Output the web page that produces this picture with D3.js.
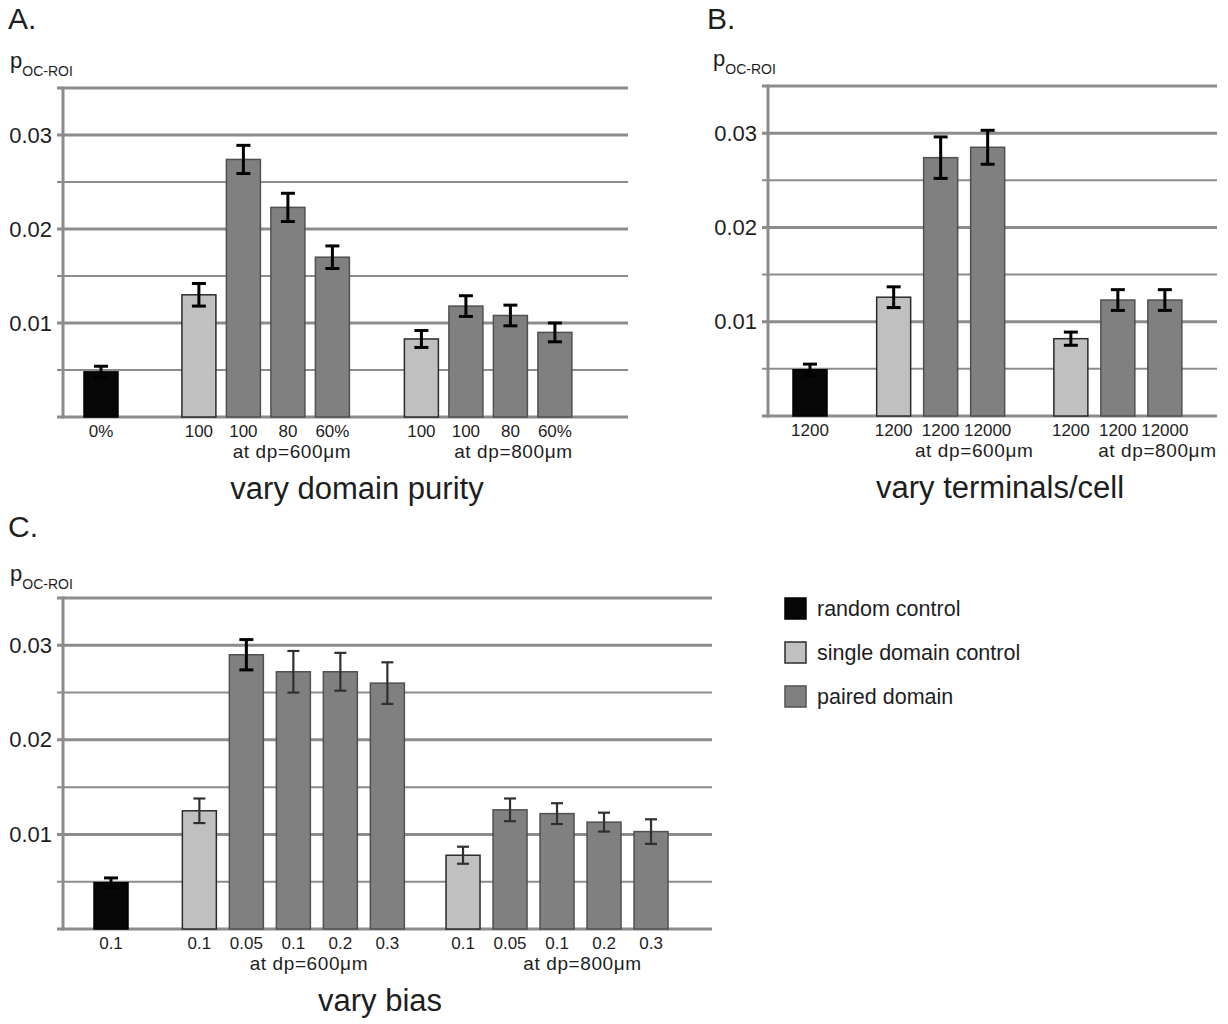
<!DOCTYPE html>
<html><head><meta charset="utf-8">
<script src="https://cdn.jsdelivr.net/npm/d3@7"></script>
<style>
body{margin:0;background:#fff}
svg{display:block}
text{font-family:"Liberation Sans",Arial,Helvetica,sans-serif;fill:#1e1e1e}
</style>
</head><body>
<svg id="chart" width="1228" height="1024"></svg>
<script>
// ---------- data ----------
const legendLabels = ["random control", "single domain control", "paired domain"];
const legendTypes = ["random", "single", "paired"];
const yTicks = [0.01, 0.02, 0.03];
const groupLabels = ["", "at dp=600\u03bcm", "at dp=800\u03bcm"];

// Panel A: vary domain purity
const catsA   = ["0%", "100", "100", "80", "60%", "100", "100", "80", "60%"];
const typesA  = ["random", "single", "paired", "paired", "paired", "single", "paired", "paired", "paired"];
const groupsA = [0, 1, 1, 1, 1, 2, 2, 2, 2];
const valuesA = [0.0048, 0.0130, 0.0274, 0.0223, 0.0170, 0.0083, 0.0118, 0.0108, 0.0090];
const errorsA = [0.0006, 0.0012, 0.0015, 0.0015, 0.0012, 0.0009, 0.0011, 0.0011, 0.0010];

// Panel B: vary terminals/cell
const catsB   = ["1200", "1200", "1200", "12000", "1200", "1200", "12000"];
const typesB  = ["random", "single", "paired", "paired", "single", "paired", "paired"];
const groupsB = [0, 1, 1, 1, 2, 2, 2];
const valuesB = [0.0049, 0.0126, 0.0274, 0.0285, 0.0082, 0.0123, 0.0123];
const errorsB = [0.0006, 0.0011, 0.0022, 0.0018, 0.0007, 0.0011, 0.0011];

// Panel C: vary bias
const catsC   = ["0.1", "0.1", "0.05", "0.1", "0.2", "0.3", "0.1", "0.05", "0.1", "0.2", "0.3"];
const typesC  = ["random", "single", "paired", "paired", "paired", "paired", "single", "paired", "paired", "paired", "paired"];
const groupsC = [0, 1, 1, 1, 1, 1, 2, 2, 2, 2, 2];
const valuesC = [0.0049, 0.0125, 0.0290, 0.0272, 0.0272, 0.0260, 0.0078, 0.0126, 0.0122, 0.0113, 0.0103];
const errorsC = [0.0005, 0.0013, 0.0016, 0.0022, 0.0020, 0.0022, 0.0009, 0.0012, 0.0011, 0.0010, 0.0013];

// ---------- layout / style ----------
const fills   = {random: "#070707", single: "#c0c0c0", paired: "#808080"};
const strokes = {random: "#000000", single: "#2b2b2b", paired: "#505050"};
const gridColor = "#8c8c8c";

const panels = [
  {letter: "A.", letterX: 8, letterY: 29, pX: 10, pY: 68,
   cats: catsA, types: typesA, groups: groupsA, values: valuesA, errors: errorsA,
   axisX: 63, right: 628, base: 417, top: 88, labelRight: 52,
   first: 101, step: 44.5, gaps: [1.2, 1.0], subDx: [0, 4, 3],
   title: "vary domain purity", titleX: 357, thin: []},
  {letter: "B.", letterX: 707, letterY: 29, pX: 713, pY: 66,
   cats: catsB, types: typesB, groups: groupsB, values: valuesB, errors: errorsB,
   axisX: 768, right: 1217, base: 416, top: 86, labelRight: 757,
   first: 810, step: 47, gaps: [0.78, 0.77], subDx: [0, 10, 16],
   title: "vary terminals/cell", titleX: 1000, thin: []},
  {letter: "C.", letterX: 8, letterY: 537, pX: 10, pY: 581,
   cats: catsC, types: typesC, groups: groupsC, values: valuesC, errors: errorsC,
   axisX: 63, right: 712, base: 929, top: 598, labelRight: 52,
   first: 111, step: 47, gaps: [0.88, 0.61], subDx: [0, -8, 2],
   title: "vary bias", titleX: 380, thin: [1, 3, 4, 5, 6, 7, 8, 9, 10]}
];

const svg = d3.select("#chart");
const barW = 34;

panels.forEach(p => {
  const g = svg.append("g");
  const y = d3.scaleLinear().domain([0, 0.035]).range([p.base, p.top]);

  // slot positions (category index plus group gaps)
  const slots = p.cats.map((c, i) => i + d3.sum(p.gaps.slice(0, p.groups[i])));
  const maxSlot = d3.max(slots);
  const x = d3.scaleLinear().domain([0, maxSlot]).range([p.first, p.first + maxSlot * p.step]);

  // panel letter
  g.append("text").attr("x", p.letterX).attr("y", p.letterY)
    .attr("font-size", 30).text(p.letter);

  // y label p_OC-ROI
  const yl = g.append("text").attr("x", p.pX).attr("y", p.pY).attr("font-size", 22).text("p");
  yl.append("tspan").attr("dy", 8).attr("font-size", 14).text("OC-ROI");

  // gridlines
  const gridVals = d3.range(0, 8).map(k => k * 0.005);
  g.selectAll("line.grid").data(gridVals).join("line")
    .attr("class", "grid")
    .attr("x1", p.axisX - 6).attr("x2", p.right)
    .attr("y1", d => y(d)).attr("y2", d => y(d))
    .attr("stroke", gridColor)
    .attr("stroke-width", (d, i) => (i % 2 === 0 || i === 7) ? 3 : 2);

  // vertical axis line
  g.append("line")
    .attr("x1", p.axisX).attr("x2", p.axisX)
    .attr("y1", y(0.035) - 1.5).attr("y2", y(0) + 1.5)
    .attr("stroke", gridColor).attr("stroke-width", 3);

  // y tick labels
  const ax = g.append("g").attr("transform", `translate(${p.axisX},0)`)
    .call(d3.axisLeft(y).tickValues(yTicks).tickFormat(d3.format(".2f"))
      .tickSize(0).tickPadding(p.axisX - p.labelRight));
  ax.select(".domain").remove();
  ax.attr("font-family", null).attr("font-size", null);
  ax.selectAll("text").attr("font-size", 22).attr("fill", "#1e1e1e");

  const idx = p.values.map((v, i) => i);

  // bars
  g.selectAll("rect.bar").data(idx).join("rect")
    .attr("class", "bar")
    .attr("x", i => x(slots[i]) - barW / 2)
    .attr("width", barW)
    .attr("y", i => y(p.values[i]))
    .attr("height", i => y(0) - y(p.values[i]))
    .attr("fill", i => fills[p.types[i]])
    .attr("stroke", i => strokes[p.types[i]])
    .attr("stroke-width", 1.5);

  // error bars
  idx.forEach(i => {
    const thin = p.thin.includes(i);
    const cx = x(slots[i]);
    const y1 = y(p.values[i] + p.errors[i]);
    const y2 = y(p.values[i] - p.errors[i]);
    const col = thin ? "#303030" : "#000000";
    const sw = thin ? 2.2 : 3;
    const cw = thin ? 12 : 14;
    const eb = g.append("g").attr("stroke", col).attr("stroke-width", sw);
    eb.append("line").attr("x1", cx).attr("x2", cx).attr("y1", y1).attr("y2", y2);
    eb.append("line").attr("x1", cx - cw / 2).attr("x2", cx + cw / 2).attr("y1", y1).attr("y2", y1);
    eb.append("line").attr("x1", cx - cw / 2).attr("x2", cx + cw / 2).attr("y1", y2).attr("y2", y2);
  });

  // x category labels
  g.selectAll("text.cat").data(idx).join("text")
    .attr("class", "cat")
    .attr("x", i => x(slots[i]))
    .attr("y", p.base + 20)
    .attr("text-anchor", "middle")
    .attr("font-size", 17)
    .text(i => p.cats[i]);

  // group subtitles (centered under paired-domain bars)
  [1, 2].forEach(gi => {
    const centers = idx.filter(i => p.groups[i] === gi && p.types[i] === "paired").map(i => x(slots[i]));
    g.append("text")
      .attr("x", d3.mean(centers) + p.subDx[gi])
      .attr("y", p.base + 41)
      .attr("text-anchor", "middle")
      .attr("font-size", 19)
      .attr("letter-spacing", "0.6px")
      .text(groupLabels[gi]);
  });

  // panel title
  g.append("text").attr("x", p.titleX).attr("y", p.base + 82)
    .attr("text-anchor", "middle").attr("font-size", 31).text(p.title);
});

// legend
const lg = svg.append("g");
legendLabels.forEach((lab, i) => {
  lg.append("rect").attr("x", 785).attr("y", 598 + i * 44).attr("width", 21).attr("height", 21)
    .attr("fill", fills[legendTypes[i]]).attr("stroke", strokes[legendTypes[i]]).attr("stroke-width", 1.5);
  lg.append("text").attr("x", 817).attr("y", 616 + i * 44).attr("font-size", 21.5).text(lab);
});
</script>
</body></html>
